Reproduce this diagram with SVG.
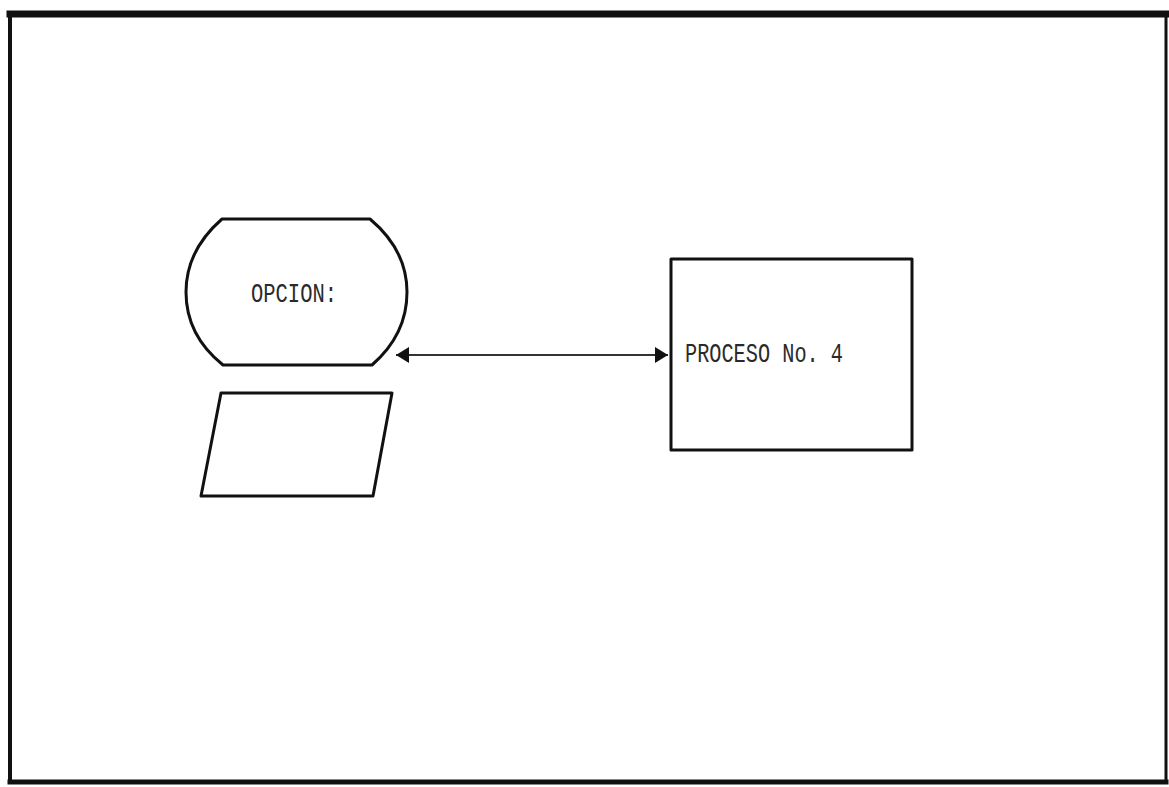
<svg xmlns="http://www.w3.org/2000/svg" width="1169" height="787" viewBox="0 0 1169 787">
<style>
.shape{fill:#fff;stroke:#111;stroke-width:3;stroke-linejoin:round}
.lbl{font-family:"Liberation Mono","DejaVu Sans Mono",monospace;font-size:27px;fill:#2a2a2a;text-anchor:middle;dominant-baseline:central}
.conn{stroke:#333;stroke-width:2;fill:none}
.frame{stroke:#111;fill:none;stroke-linecap:square}
</style>
<defs>
<marker id="ah" markerWidth="14" markerHeight="16" refX="13" refY="8" orient="auto-start-reverse" markerUnits="userSpaceOnUse">
<path d="M0,0 L13,8 L0,16 Z" fill="#111"/>
</marker>
</defs>
<rect x="0" y="0" width="1169" height="787" fill="#fff"/>
<line class="frame" x1="10" y1="14" x2="1166" y2="14" stroke-width="7"/>
<line class="frame" x1="10" y1="14" x2="10" y2="782" stroke-width="4"/>
<line class="frame" x1="1166" y1="14" x2="1166" y2="782" stroke-width="3"/>
<line class="frame" x1="10" y1="782" x2="1166" y2="782" stroke-width="5"/>
<g id="opcion">
<path class="shape" d="M222,219 L370,219 C395,240 407,265 407,292 C407,320 395,345 372,365 L223,365 C198,345 186,320 186,292 C186,265 198,240 222,219 Z"/>
<text class="lbl" x="294" y="295" textLength="86" lengthAdjust="spacingAndGlyphs">OPCION:</text>
</g>
<g id="entrada">
<path class="shape" d="M221,393 L392,393 L373,496 L201,496 Z"/>
</g>
<g id="proceso4">
<rect class="shape" x="671" y="259" width="241" height="191"/>
<text class="lbl" x="764" y="355" textLength="158" lengthAdjust="spacingAndGlyphs">PROCESO No. 4</text>
</g>
<g id="connectors">
<line class="conn" x1="396" y1="355" x2="668" y2="355" marker-start="url(#ah)" marker-end="url(#ah)"/>
</g>
</svg>
